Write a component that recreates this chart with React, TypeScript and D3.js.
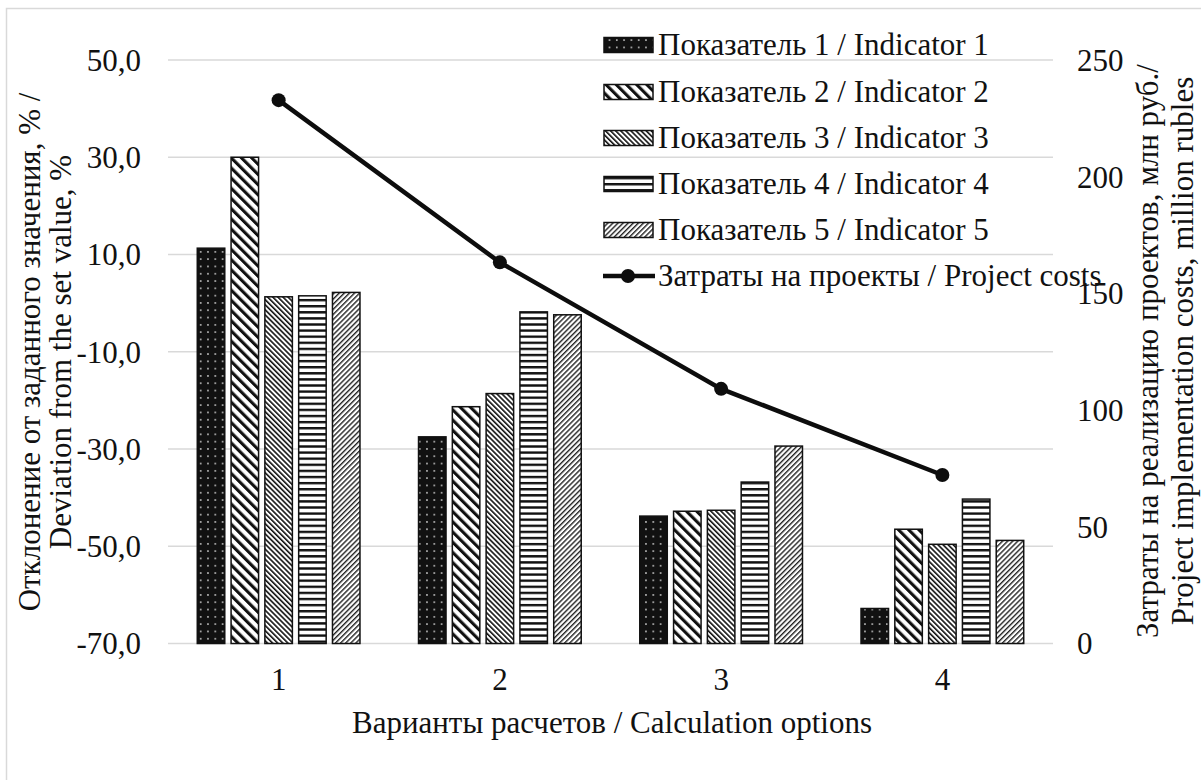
import React from "react";
import * as d3 from "d3";

const categories = ["1", "2", "3", "4"];
const seriesNames = [
  "Показатель 1 / Indicator 1",
  "Показатель 2 / Indicator 2",
  "Показатель 3 / Indicator 3",
  "Показатель 4 / Indicator 4",
  "Показатель 5 / Indicator 5",
];
const indicator1 = [11.3, -27.5, -43.8, -62.8];
const indicator2 = [30.0, -21.3, -42.8, -46.5];
const indicator3 = [1.3, -18.6, -42.6, -49.6];
const indicator4 = [1.5, -1.8, -36.8, -40.3];
const indicator5 = [2.2, -2.4, -29.4, -48.8];
const costsName = "Затраты на проекты / Project costs";
const projectCosts = [232.8, 163.3, 109.1, 72.2];
const leftTicks = [-70, -50, -30, -10, 10, 30, 50];
const rightTicks = [0, 50, 100, 150, 200, 250];

const series = [indicator1, indicator2, indicator3, indicator4, indicator5];
const patternIds = ["p1", "p2", "p3", "p4", "p5"];

const W = 1201;
const H = 780;
const plot = { left: 168, right: 1053, top: 60, bottom: 643.5 };
const FONT = '"Liberation Serif", "Times New Roman", Times, serif';
const FS = 31;

export default function App() {
  const x = d3.scaleBand().domain(categories).range([plot.left, plot.right]).padding(0);
  const yL = d3.scaleLinear().domain([-70, 50]).range([plot.bottom, plot.top]);
  const yR = d3.scaleLinear().domain([0, 250]).range([plot.bottom, plot.top]);
  const barW = 27.5;
  const step = 33.8;
  const fmt = (v: number) => v.toFixed(1).replace(".", ",");
  const cx = (c: string) => (x(c) as number) + x.bandwidth() / 2;
  const line = d3
    .line<number>()
    .x((_, i) => cx(categories[i]))
    .y((d) => yR(d));
  const legendRows = [45, 92, 138, 184, 230, 276];
  const ts = { fontFamily: FONT, fontSize: FS } as React.CSSProperties;

  return (
    <svg width={W} height={H} style={{ position: "absolute", left: 0, top: 0, fontFamily: FONT }}>
      <defs>
        <pattern id="p1" width={7.3} height={7.3} patternUnits="userSpaceOnUse">
          <rect width={7.3} height={7.3} fill="#111" />
          <circle cx={3.6} cy={3.6} r={0.9} fill="#ccc" />
        </pattern>
        <pattern id="p2" width={7.2} height={10} patternUnits="userSpaceOnUse" patternTransform="rotate(-45)">
          <rect width={7.2} height={10} fill="#fff" />
          <rect width={3.1} height={10} fill="#111" />
        </pattern>
        <pattern id="p3" width={3.6} height={10} patternUnits="userSpaceOnUse" patternTransform="rotate(-45)">
          <rect width={3.6} height={10} fill="#fff" />
          <rect width={1.6} height={10} fill="#111" />
        </pattern>
        <pattern id="p4" width={10} height={6.1} patternUnits="userSpaceOnUse">
          <rect width={10} height={6.1} fill="#fff" />
          <rect width={10} height={2.4} fill="#111" />
        </pattern>
        <pattern id="p5" width={3.6} height={10} patternUnits="userSpaceOnUse" patternTransform="rotate(45)">
          <rect width={3.6} height={10} fill="#fff" />
          <rect width={1.4} height={10} fill="#222" />
        </pattern>
      </defs>
      <rect x={6.5} y={8.5} width={1210} height={800} fill="#fff" stroke="#d9d9d9" strokeWidth={1.5} />

      {leftTicks.map((t) => (
        <line key={t} x1={plot.left} x2={plot.right} y1={yL(t)} y2={yL(t)} stroke="#d9d9d9" strokeWidth={1.5} />
      ))}

      {series.map((s, si) =>
        s.map((v, ci) => {
          const bx = cx(categories[ci]) - (5 * step - (step - barW)) / 2 + si * step;
          return (
            <rect
              key={`${si}-${ci}`}
              x={bx}
              y={yL(v)}
              width={barW}
              height={yL(-70) - yL(v)}
              fill={`url(#${patternIds[si]})`}
              stroke="#111"
              strokeWidth={1.5}
            />
          );
        })
      )}

      <path d={line(projectCosts) || ""} fill="none" stroke="#0d0d0d" strokeWidth={4.5} />
      {projectCosts.map((v, i) => (
        <circle key={i} cx={cx(categories[i])} cy={yR(v)} r={7} fill="#0d0d0d" />
      ))}

      {leftTicks.map((t) => (
        <text key={t} x={141} y={yL(t)} dy="0.35em" textAnchor="end" style={ts} fill="#111">
          {fmt(t)}
        </text>
      ))}
      {rightTicks.map((t) => (
        <text key={t} x={1077} y={yR(t)} dy="0.35em" textAnchor="start" style={ts} fill="#111">
          {t}
        </text>
      ))}
      {categories.map((c) => (
        <text key={c} x={cx(c)} y={690} textAnchor="middle" style={ts} fill="#111">
          {c}
        </text>
      ))}
      <text x={612} y={733} textAnchor="middle" style={ts} fill="#111">
        Варианты расчетов / Calculation options
      </text>

      <text transform="translate(40,352) rotate(-90)" textAnchor="middle" style={ts} fill="#111">
        Отклонение от заданного значения, % /
      </text>
      <text transform="translate(71,352) rotate(-90)" textAnchor="middle" style={ts} fill="#111">
        Deviation from the set value, %
      </text>
      <text transform="translate(1158,351) rotate(-90)" textAnchor="middle" style={ts} fill="#111">
        Затраты на реализацию проектов, млн руб./
      </text>
      <text transform="translate(1193,351) rotate(-90)" textAnchor="middle" style={ts} fill="#111">
        Project implementation costs, million rubles
      </text>

      {seriesNames.map((n, i) => (
        <g key={n}>
          <rect x={604} y={legendRows[i] - 7.5} width={49} height={15} fill={`url(#${patternIds[i]})`} stroke="#111" strokeWidth={1.5} />
          <text x={658} y={legendRows[i]} dy="0.33em" style={ts} fill="#111">
            {n}
          </text>
        </g>
      ))}
      <line x1={603} x2={655} y1={legendRows[5]} y2={legendRows[5]} stroke="#0d0d0d" strokeWidth={4.5} />
      <circle cx={628} cy={legendRows[5]} r={7} fill="#0d0d0d" />
      <text x={658} y={legendRows[5]} dy="0.33em" style={ts} fill="#111">
        {costsName}
      </text>
    </svg>
  );
}
